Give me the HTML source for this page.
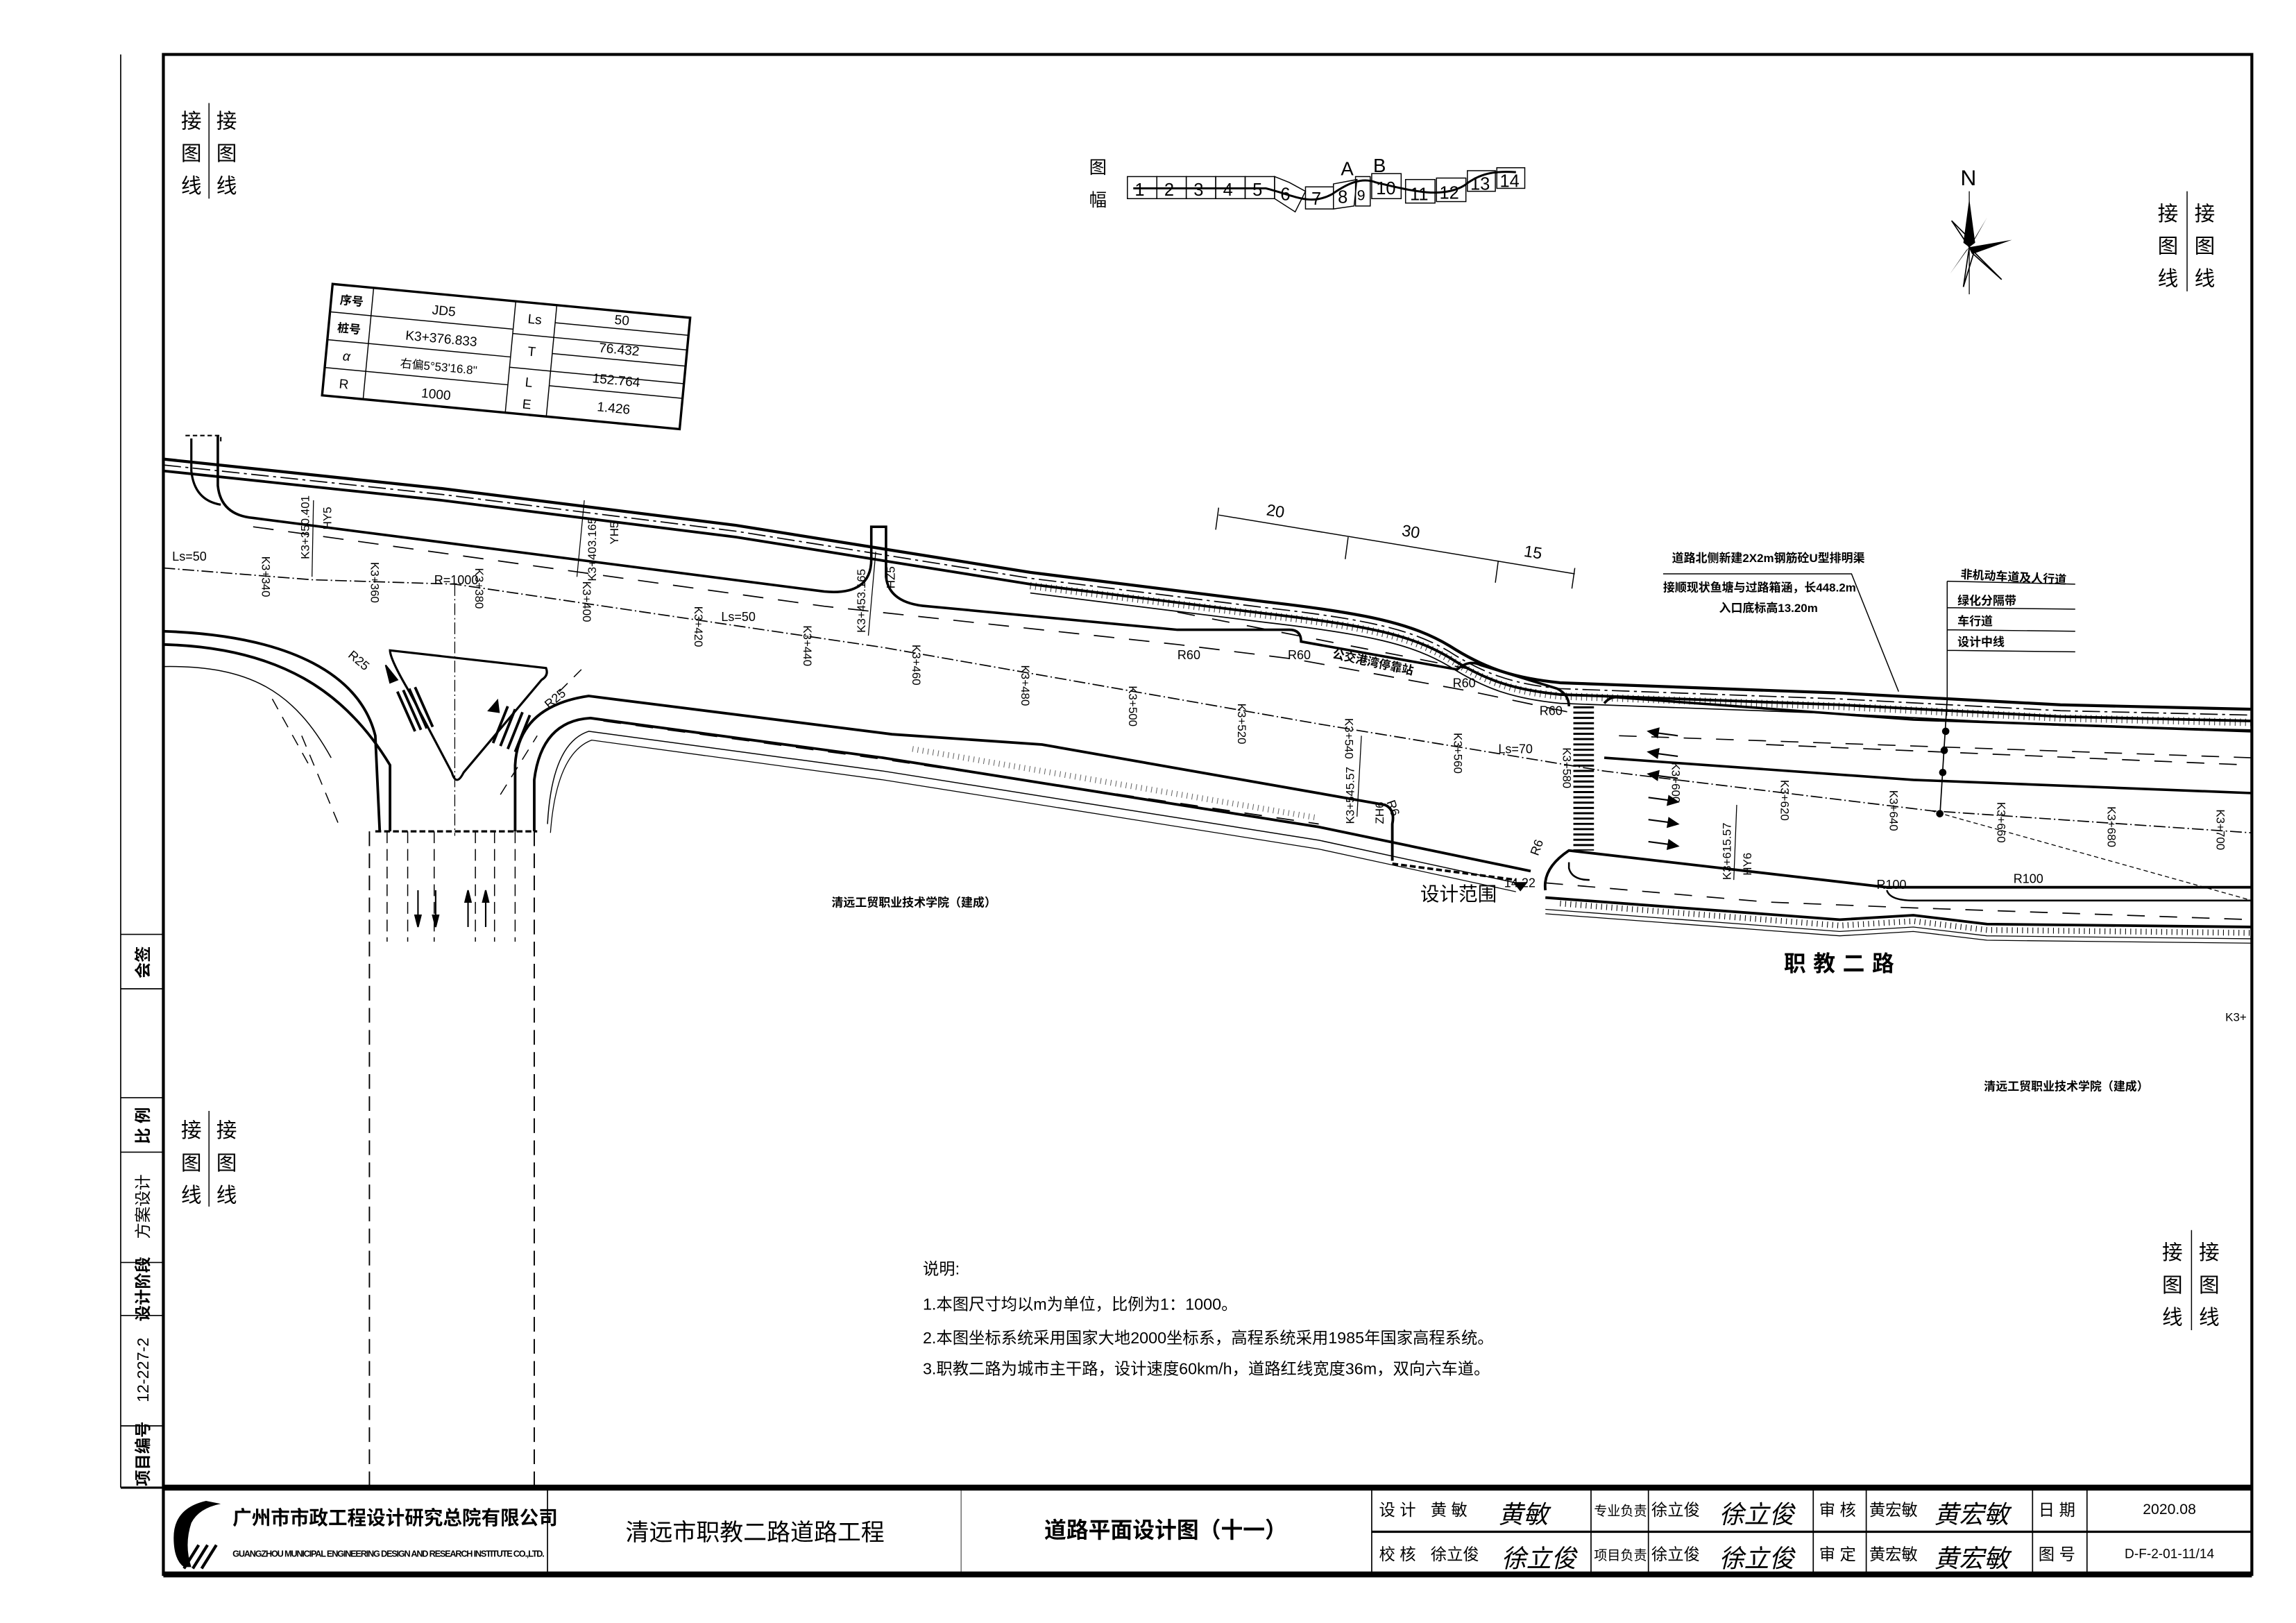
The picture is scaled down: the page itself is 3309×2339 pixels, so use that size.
<!DOCTYPE html>
<html><head><meta charset="utf-8"><style>
html,body{margin:0;padding:0;background:#fff}
svg{display:block}
text{font-family:"Liberation Sans","Noto Sans CJK SC",sans-serif;fill:#000}
</style></head><body>
<svg width="3309" height="2339" viewBox="0 0 1560 1103" preserveAspectRatio="none" xmlns="http://www.w3.org/2000/svg">
<rect width="1560" height="1103" fill="#fff"/>
<!-- frames -->
<line x1="82" y1="37" x2="82" y2="1011" stroke="#000" stroke-width="0.8"/>
<rect x="111" y="37" width="1419" height="1033" fill="none" stroke="#000" stroke-width="2"/>
<line x1="82" y1="1011" x2="111" y2="1011" stroke="#000" stroke-width="1.5"/>
<!-- left strip -->
<g stroke="#000" stroke-width="0.8">
<line x1="82" y1="635" x2="111" y2="635"/><line x1="82" y1="672" x2="111" y2="672"/>
<line x1="82" y1="746" x2="111" y2="746"/><line x1="82" y1="783" x2="111" y2="783"/>
<line x1="82" y1="858" x2="111" y2="858"/><line x1="82" y1="894" x2="111" y2="894"/>
<line x1="82" y1="969" x2="111" y2="969"/>
</g>
<g font-size="11" font-weight="bold">
<text transform="translate(101,654) rotate(-90)" text-anchor="middle">会签</text>
<text transform="translate(101,765) rotate(-90)" text-anchor="middle">比 例</text>
<text transform="translate(101,820) rotate(-90)" text-anchor="middle" font-weight="normal">方案设计</text>
<text transform="translate(101,876) rotate(-90)" text-anchor="middle">设计阶段</text>
<text transform="translate(101,931) rotate(-90)" text-anchor="middle" font-weight="normal">12-227-2</text>
<text transform="translate(101,988) rotate(-90)" text-anchor="middle">项目编号</text>
</g>
<!-- 接图线 labels -->
<g font-size="14">
<text x="123" y="87">接</text><text x="123" y="109">图</text><text x="123" y="131">线</text>
<text x="147" y="87">接</text><text x="147" y="109">图</text><text x="147" y="131">线</text>
<line x1="142" y1="70" x2="142" y2="135" stroke="#000" stroke-width="0.7"/>
<text x="123" y="773">接</text><text x="123" y="795">图</text><text x="123" y="817">线</text>
<text x="147" y="773">接</text><text x="147" y="795">图</text><text x="147" y="817">线</text>
<line x1="142" y1="755" x2="142" y2="820" stroke="#000" stroke-width="0.7"/>
<text x="1466" y="150">接</text><text x="1466" y="172">图</text><text x="1466" y="194">线</text>
<text x="1491" y="150">接</text><text x="1491" y="172">图</text><text x="1491" y="194">线</text>
<line x1="1486" y1="130" x2="1486" y2="198" stroke="#000" stroke-width="0.7"/>
<text x="1469" y="856">接</text><text x="1469" y="878">图</text><text x="1469" y="900">线</text>
<text x="1494" y="856">接</text><text x="1494" y="878">图</text><text x="1494" y="900">线</text>
<line x1="1489" y1="836" x2="1489" y2="904" stroke="#000" stroke-width="0.7"/>
</g>
<!-- map index -->
<text x="740" y="118" font-size="12">图</text><text x="740" y="140" font-size="12">幅</text>
<g stroke="#000" stroke-width="0.7" fill="none">
<rect x="766" y="120" width="20" height="15"/><rect x="786" y="120" width="20" height="15"/>
<rect x="806" y="120" width="20" height="15"/><rect x="826" y="120" width="20" height="15"/>
<rect x="846" y="120" width="20" height="15"/><polygon points="866,120 876,124 887,130 880,144 866,135"/>
<rect x="887" y="127" width="19" height="15"/><polygon points="906,125 922,122 920,140 906,142"/>
<rect x="921" y="120" width="10" height="20"/><rect x="932" y="118" width="20" height="17"/>
<rect x="955" y="122" width="20" height="16"/><rect x="976" y="121" width="20" height="16"/>
<rect x="997" y="116" width="19" height="14"/><rect x="1017" y="114" width="19" height="14"/>
<path d="M770,128 L860,128 C880,133 890,140 905,132 C915,125 925,120 935,124 C960,130 980,135 995,126 C1005,118 1015,116 1030,117" stroke-width="1.4"/>
</g>
<g font-size="12" font-family="Liberation Sans">
<text x="771" y="133">1</text><text x="791" y="133">2</text><text x="811" y="133">3</text><text x="831" y="133">4</text><text x="851" y="133">5</text><text x="870" y="136">6</text><text x="891" y="139">7</text><text x="909" y="138">8</text><text x="922" y="136" font-size="10">9</text><text x="935" y="132">10</text><text x="958" y="136">11</text><text x="978" y="135">12</text><text x="999" y="129">13</text><text x="1019" y="127">14</text>
<text x="911" y="119" font-size="13">A</text><text x="933" y="117" font-size="13">B</text>
</g>
<!-- north arrow -->
<g>
<text x="1332" y="126" font-family="Liberation Serif" font-size="15">N</text>
<line x1="1338" y1="130" x2="1338" y2="200" stroke="#000" stroke-width="0.6"/>
<polygon points="1338,135 1342,165 1338,168 1334,165" fill="#000"/>
<polygon points="1338,168 1367,163 1342,172" fill="#000"/>
<polygon points="1338,168 1360,190 1340,172" fill="none" stroke="#000" stroke-width="0.8"/>
<polygon points="1338,168 1325,186 1336,170" fill="#000"/>
<polygon points="1338,168 1326,150 1340,164" fill="none" stroke="#000" stroke-width="0.8"/>
<polygon points="1338,168 1350,148 1341,164" fill="#000"/>
<polygon points="1338,168 1334,195 1341,172" fill="none" stroke="#000" stroke-width="0.8"/>
</g>
<!-- JD table -->
<g transform="translate(226,193) rotate(5.4)" stroke="#000" fill="none">
<rect x="0" y="0" width="244" height="76" stroke-width="1.6"/>
<g stroke-width="0.7">
<line x1="0" y1="19" x2="125" y2="19"/><line x1="0" y1="38" x2="125" y2="38"/><line x1="0" y1="57" x2="125" y2="57"/>
<line x1="28" y1="0" x2="28" y2="76"/><line x1="125" y1="0" x2="125" y2="76"/><line x1="153" y1="0" x2="153" y2="76"/>
<line x1="153" y1="12" x2="244" y2="12"/><line x1="125" y1="22" x2="244" y2="22"/><line x1="153" y1="33" x2="244" y2="33"/><line x1="125" y1="45" x2="244" y2="45"/><line x1="153" y1="55" x2="244" y2="55"/>
</g>
<g stroke="none" fill="#000" font-size="9" text-anchor="middle">
<text x="14" y="13" font-size="8" font-weight="bold">序号</text><text x="77" y="14">JD5</text>
<text x="14" y="32" font-size="8" font-weight="bold">桩号</text><text x="77" y="33">K3+376.833</text>
<text x="14" y="51" font-style="italic">α</text><text x="77" y="52" font-size="8">右偏5°53'16.8"</text>
<text x="14" y="70">R</text><text x="77" y="71">1000</text>
<text x="139" y="14">Ls</text><text x="139" y="36">T</text><text x="139" y="57">L</text><text x="139" y="72">E</text>
<text x="198" y="9">50</text><text x="198" y="29">76.432</text><text x="198" y="50">152.764</text><text x="198" y="69">1.426</text>
</g>
</g>
<!-- ROAD -->
<g fill="none" stroke="#000">
<path d="M111,312 L300,332 L500,357 L700,389 L860,409 C930,417 960,424 985,439 C1010,455 1030,461 1060,464 L1250,471 L1400,479 L1530,482" stroke-width="2"/>
<path d="M111,316 L300,336 L500,361 L700,393 L860,413 C930,421 960,428 985,443 C1010,459 1030,465 1060,468 L1250,475 L1400,483 L1530,486" stroke-width="0.8" stroke-dasharray="12,3,2,3"/>
<path d="M111,320 L300,340 L500,365 L700,397 L860,417 C930,425 960,432 985,447 C1010,463 1030,469 1060,472 L1250,479 L1400,487 L1530,490" stroke-width="1.8"/>
<path d="M700,403 L860,423 C930,431 960,438 985,453 C1010,469 1030,475 1060,478 L1250,485 L1400,493 L1530,496" stroke-width="0.8"/>
<path d="M700,398 L860,418 C930,426 960,433 985,448 C1010,464 1030,470 1060,473 L1250,480 L1400,488 L1530,491" stroke-width="5" stroke-dasharray="0.5,3" opacity="0.8"/>
<path d="M130,298 L130,320 Q132,340 150,343" stroke-width="1.5"/>
<path d="M148,296 L148,330 Q150,350 172,352 L560,402 Q592,405 592,380 L592,358 L602,358 L602,392 Q604,410 630,412 L800,428 L876,428 Q884,428 884,436 L990,455 Q998,448 1006,452 L1058,468 Q1066,472 1066,480" stroke-width="1.7"/>
<path d="M126,296 L150,296 L150,302" stroke-width="1" stroke-dasharray="3,2"/>
<path d="M172,358 L560,412 L800,438 L880,448 L1000,470 L1066,484" stroke-width="0.8" stroke-dasharray="14,10"/>
<path d="M1090,478 Q1094,473 1100,474 L1300,489 L1530,497" stroke-width="1.7"/>
<path d="M1090,515 L1300,530 L1530,539" stroke-width="1.7"/>
<path d="M800,416 L1000,455" stroke-width="0.8" stroke-dasharray="12,12"/>
<path d="M1100,500 L1530,515" stroke-width="0.8" stroke-dasharray="12,10"/>
<path d="M1200,506 L1530,520" stroke-width="0.8" stroke-dasharray="12,10"/>
<path d="M111,386 L212,394 L309,397 L600,440 L896,492 L1090,524 L1312,551 L1530,566" stroke-width="0.8" stroke-dasharray="8,2,1,2"/>
<path d="M1312,551 L1530,612" stroke-width="0.6" stroke-dasharray="3,2"/>
<path d="M309,397 L309,568" stroke-width="0.6" stroke-dasharray="8,2,1,2"/>
<path d="M111,429 C200,432 245,460 255,500 L258,565" stroke-width="1.8"/>
<path d="M111,438 C190,440 235,470 265,520 L265,565" stroke-width="1.8"/>
<path d="M111,453 C170,452 200,470 225,515" stroke-width="0.7"/>
<path d="M185,475 L210,520 M205,500 L230,560" stroke-width="0.7" stroke-dasharray="8,6"/>
<path d="M265,442 L371,454 Q373,459 368,462 L315,525 Q310,535 307,525 L278,470 Q265,448 265,442 Z" stroke-width="1.5"/>
<g stroke-width="1.8"><line x1="270" y1="470" x2="282" y2="497"/><line x1="274" y1="469" x2="286" y2="496"/><line x1="278" y1="468" x2="290" y2="495"/><line x1="282" y1="467" x2="294" y2="494"/>
<line x1="345" y1="480" x2="335" y2="505"/><line x1="350" y1="482" x2="340" y2="507"/><line x1="355" y1="484" x2="345" y2="509"/><line x1="360" y1="486" x2="350" y2="511"/></g>
<path d="M350,565 L350,520 Q352,480 400,473 L606,499 L708,506 L941,547 Q948,550 946,560 L946,585" stroke-width="1.8"/>
<path d="M363,565 L363,530 Q368,490 401,488 L600,515 L896,562 L1040,592" stroke-width="1.8"/>
<path d="M372,560 Q375,505 400,497 L600,524 L896,571 L1030,600" stroke-width="0.7"/>
<path d="M374,566 Q378,512 402,503 L600,530 L896,577 L1030,606" stroke-width="0.6"/>
<path d="M340,540 L365,500 M380,470 L395,455" stroke-width="0.7" stroke-dasharray="8,6"/>
<path d="M410,490 L600,516 L896,560" stroke-width="0.8" stroke-dasharray="12,10"/>
<path d="M255,565 L365,565" stroke-width="1.5" stroke-dasharray="4,2"/>
<path d="M946,587 L1030,598" stroke-width="1.7" stroke-dasharray="4,2"/>
<path d="M1050,605 Q1048,590 1066,578 L1282,603 L1530,603" stroke-width="1.8"/>
<path d="M1066,586 L1066,590 Q1068,598 1080,598" stroke-width="1.2"/>
<path d="M1282,605 Q1284,612 1300,612 L1530,612" stroke-width="1.2"/>
<path d="M1050,600 L1200,613 L1300,617 L1530,625" stroke-width="0.8" stroke-dasharray="12,10"/>
<path d="M1050,610 L1250,625 L1300,622 L1350,628 L1530,630" stroke-width="1.8"/>
<path d="M1050,618 L1250,633 L1300,630 L1350,636 L1530,638" stroke-width="0.6"/>
<path d="M1050,621 L1250,636 L1300,633 L1350,639 L1530,641" stroke-width="0.6"/>
<path d="M1060,614 L1250,629 L1300,626 L1350,632 L1530,634" stroke-width="4" stroke-dasharray="0.5,3"/>
<path d="M620,509 L896,556" stroke-width="4" stroke-dasharray="0.5,3" opacity="0.6"/>
<path d="M251,565 L251,1010 M363,565 L363,1010" stroke-width="0.9" stroke-dasharray="10,5"/>
<path d="M263,565 L263,640 M277,565 L277,640 M295,565 L295,640 M323,565 L323,640 M336,565 L336,640 M350,565 L350,640" stroke-width="0.7" stroke-dasharray="8,4"/>
<path d="M1076,480 L1076,578" stroke-width="14" stroke-dasharray="1.4,2.2"/>
<line x1="212" y1="392" x2="213" y2="340" stroke-width="0.6"/>
<line x1="397" y1="340" x2="392" y2="392" stroke-width="0.6"/>
<line x1="595" y1="375" x2="590" y2="432" stroke-width="0.6"/>
<line x1="925" y1="500" x2="922" y2="555" stroke-width="0.6"/>
<line x1="1180" y1="547" x2="1178" y2="598" stroke-width="0.6"/>
<line x1="1323" y1="475" x2="1318" y2="555" stroke-width="0.8"/>
<path d="M1130,390 L1258,390 L1290,470" stroke-width="0.7"/>
<path d="M1323,395 L1323,475 M1323,395 L1410,397 M1323,413 L1410,414 M1323,428 L1410,429 M1323,442 L1410,443" stroke-width="0.7"/>
<path d="M828,350 L1070,390 M828,345 L826,360 M916,365 L914,380 M1018,381 L1016,396 M1070,386 L1068,400" stroke-width="0.7"/>
</g>
<g fill="#000"><circle cx="1322" cy="497" r="2.5"/><circle cx="1321" cy="510" r="2.5"/><circle cx="1320" cy="525" r="2.5"/><circle cx="1318" cy="553" r="2.5"/></g>
<g stroke="#000" stroke-width="1" fill="#000">
<line x1="1125" y1="498" x2="1140" y2="500"/><polygon points="1120,497 1127,495 1126,501"/>
<line x1="1125" y1="512" x2="1140" y2="514"/><polygon points="1120,511 1127,509 1126,515"/>
<line x1="1125" y1="527" x2="1140" y2="529"/><polygon points="1120,526 1127,524 1126,530"/>
<line x1="1120" y1="542" x2="1135" y2="544"/><polygon points="1140,545 1133,547 1134,541"/>
<line x1="1120" y1="557" x2="1135" y2="559"/><polygon points="1140,560 1133,562 1134,556"/>
<line x1="1120" y1="572" x2="1135" y2="574"/><polygon points="1140,575 1133,577 1134,571"/>
<line x1="284" y1="605" x2="284" y2="625"/><polygon points="284,630 282,622 286,622"/>
<line x1="296" y1="605" x2="296" y2="625"/><polygon points="296,630 294,622 298,622"/>
<line x1="318" y1="610" x2="318" y2="630"/><polygon points="318,605 316,613 320,613"/>
<line x1="330" y1="610" x2="330" y2="630"/><polygon points="330,605 328,613 332,613"/>
<polygon points="262,452 270,462 265,464"/><polygon points="332,483 338,476 339,484"/>
<polygon points="1033,605 1029,600 1037,600"/>
</g>
<g font-size="8.5">
<text x="117" y="381">Ls=50</text><text x="295" y="397">R=1000</text><text x="490" y="422">Ls=50</text><text x="1018" y="512">Ls=70</text>
<text x="800" y="448">R60</text><text x="875" y="448">R60</text><text x="987" y="467">R60</text><text x="1046" y="486">R60</text>
<text x="1275" y="604">R100</text><text x="1368" y="600">R100</text><text x="1022" y="603">14.22</text>
<text transform="translate(236,446) rotate(40)">R25</text><text transform="translate(373,482) rotate(-40)">R25</text>
<text transform="translate(942,545) rotate(70)">R6</text><text transform="translate(1045,582) rotate(-70)">R6</text>
</g>
<g font-size="8">
<text transform="translate(178,378) rotate(90)">K3+340</text>
<text transform="translate(252,382) rotate(90)">K3+360</text>
<text transform="translate(323,386) rotate(90)">K3+380</text>
<text transform="translate(396,395) rotate(90)">K3+400</text>
<text transform="translate(472,412) rotate(90)">K3+420</text>
<text transform="translate(546,425) rotate(90)">K3+440</text>
<text transform="translate(620,438) rotate(90)">K3+460</text>
<text transform="translate(694,452) rotate(90)">K3+480</text>
<text transform="translate(767,466) rotate(90)">K3+500</text>
<text transform="translate(841,478) rotate(90)">K3+520</text>
<text transform="translate(914,488) rotate(90)">K3+540</text>
<text transform="translate(988,498) rotate(90)">K3+560</text>
<text transform="translate(1062,508) rotate(90)">K3+580</text>
<text transform="translate(1136,518) rotate(90)">K3+600</text>
<text transform="translate(1210,530) rotate(90)">K3+620</text>
<text transform="translate(1284,537) rotate(90)">K3+640</text>
<text transform="translate(1357,545) rotate(90)">K3+660</text>
<text transform="translate(1432,548) rotate(90)">K3+680</text>
<text transform="translate(1506,550) rotate(90)">K3+700</text>
<text transform="translate(210,380) rotate(-90)">K3+350.401</text>
<text transform="translate(225,360) rotate(-90)">HY5</text>
<text transform="translate(405,395) rotate(-90)">K3+403.165</text>
<text transform="translate(420,370) rotate(-90)">YH5</text>
<text transform="translate(588,430) rotate(-90)">K3+453.165</text>
<text transform="translate(608,400) rotate(-90)">HZ5</text>
<text transform="translate(920,560) rotate(-90)">K3+545.57</text>
<text transform="translate(940,560) rotate(-90)">ZH6</text>
<text transform="translate(1176,598) rotate(-90)">K3+615.57</text>
<text transform="translate(1190,595) rotate(-90)">HY6</text>
</g>
<g font-size="8" font-weight="bold">
<text transform="translate(905,447) rotate(12)">公交港湾停靠站</text>
<text x="1136" y="382">道路北侧新建2X2m钢筋砼U型排明渠</text>
<text x="1130" y="402">接顺现状鱼塘与过路箱涵，长448.2m</text>
<text x="1168" y="416">入口底标高13.20m</text>
<text transform="translate(1332,393) rotate(3)">非机动车道及人行道</text>
<text x="1330" y="411">绿化分隔带</text><text x="1330" y="425">车行道</text><text x="1330" y="439">设计中线</text>
<text x="565" y="616">清远工贸职业技术学院（建成）</text>
<text x="1348" y="741">清远工贸职业技术学院（建成）</text>
<text x="1512" y="694" font-weight="normal">K3+</text>
</g>
<text transform="translate(860,350) rotate(9)" font-size="11">20</text>
<text transform="translate(952,364) rotate(9)" font-size="11">30</text>
<text transform="translate(1035,378) rotate(9)" font-size="11">15</text>
<text x="965" y="612" font-size="13">设计范围</text>
<text x="1212" y="660" font-size="15" font-weight="bold" letter-spacing="5">职教二路</text>
<g font-size="11">
<text x="627" y="866">说明:</text>
<text x="627" y="890">1.本图尺寸均以m为单位，比例为1：1000。</text>
<text x="627" y="913">2.本图坐标系统采用国家大地2000坐标系，高程系统采用1985年国家高程系统。</text>
<text x="627" y="934">3.职教二路为城市主干路，设计速度60km/h，道路红线宽度36m，双向六车道。</text>
</g>
<rect x="111" y="1009" width="1419" height="4" fill="#000"/>
<rect x="111" y="1068" width="1419" height="4" fill="#000"/>
<g stroke="#000" stroke-width="0.8">
<line x1="372" y1="1011" x2="372" y2="1070"/><line x1="653" y1="1011" x2="653" y2="1070" stroke-width="0.4"/>
<line x1="932" y1="1011" x2="932" y2="1070"/><line x1="1081" y1="1011" x2="1081" y2="1070"/>
<line x1="1120" y1="1011" x2="1120" y2="1070"/><line x1="1232" y1="1011" x2="1232" y2="1070"/>
<line x1="1268" y1="1011" x2="1268" y2="1070"/><line x1="1381" y1="1011" x2="1381" y2="1070"/>
<line x1="1418" y1="1011" x2="1418" y2="1070"/>
<line x1="932" y1="1041" x2="1530" y2="1041" stroke-width="1.5"/>
</g>
<path d="M140,1020 Q118,1025 118,1045 Q118,1060 125,1065 L130,1065 Q125,1050 130,1035 Q135,1025 150,1022 Z" fill="#000"/>
<path d="M125,1066 L135,1050 M131,1066 L141,1050 M137,1066 L147,1050" stroke="#000" stroke-width="2"/>
<text x="158" y="1036" font-size="13" font-weight="bold">广州市市政工程设计研究总院有限公司</text>
<text x="158" y="1058" font-size="6" font-weight="bold" textLength="212">GUANGZHOU MUNICIPAL ENGINEERING DESIGN AND RESEARCH INSTITUTE CO.,LTD.</text>
<text x="513" y="1047" font-size="16" text-anchor="middle">清远市职教二路道路工程</text>
<text x="792" y="1045" font-size="15" font-weight="bold" text-anchor="middle">道路平面设计图（十一）</text>
<g font-size="11">
<text x="937" y="1030">设 计</text><text x="972" y="1030">黄 敏</text>
<text x="937" y="1060">校 核</text><text x="972" y="1060">徐立俊</text>
<text x="1083" y="1030" font-size="9">专业负责</text><text x="1122" y="1030">徐立俊</text>
<text x="1083" y="1060" font-size="9">项目负责</text><text x="1122" y="1060">徐立俊</text>
<text x="1236" y="1030">审 核</text><text x="1270" y="1030">黄宏敏</text>
<text x="1236" y="1060">审 定</text><text x="1270" y="1060">黄宏敏</text>
<text x="1385" y="1030">日 期</text><text x="1385" y="1060">图 号</text>
<text x="1474" y="1029" text-anchor="middle" font-size="10">2020.08</text>
<text x="1474" y="1059" text-anchor="middle" font-size="9">D-F-2-01-11/14</text>
</g>
<g font-size="17" font-style="italic" font-family="Liberation Serif,'Noto Serif CJK SC',serif">
<text x="1018" y="1035">黄敏</text><text x="1020" y="1065">徐立俊</text>
<text x="1168" y="1035">徐立俊</text><text x="1168" y="1065">徐立俊</text>
<text x="1314" y="1035">黄宏敏</text><text x="1314" y="1065">黄宏敏</text>
</g>
</svg>
</body></html>
